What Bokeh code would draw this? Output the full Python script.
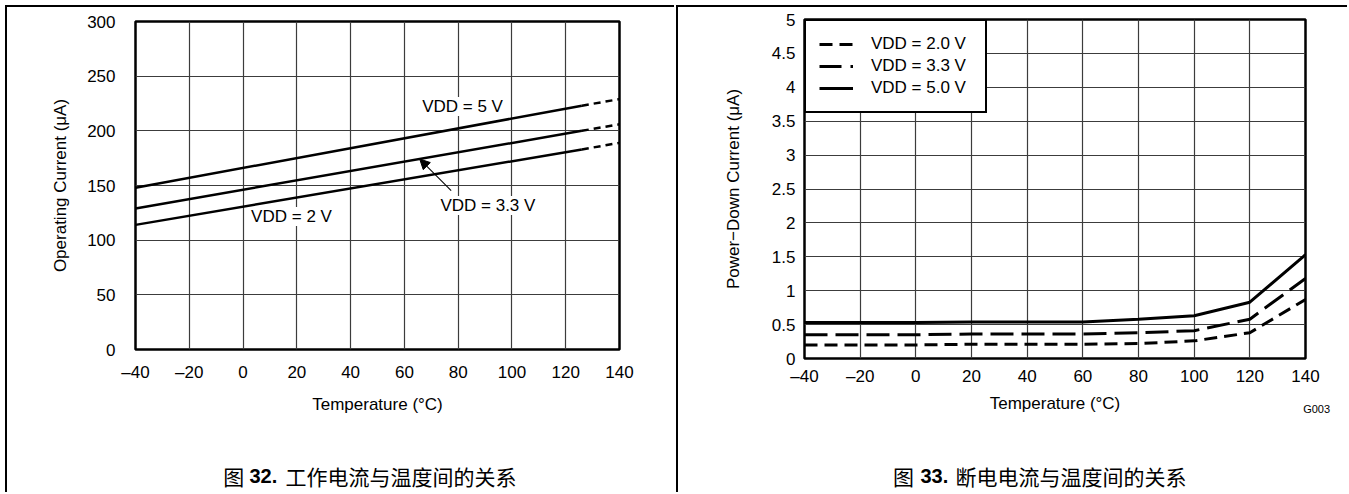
import numpy as np
from bokeh.plotting import figure
from bokeh.models import (Range1d, FixedTicker, Label, Arrow, NormalHead,
                          Legend, LegendItem)
from bokeh.embed import file_html
from bokeh.resources import INLINE

FONT = "Liberation Sans"
CJK = "Noto Sans CJK SC"

# Shared temperature axis
temp_ticks = [-40, -20, 0, 20, 40, 60, 80, 100, 120, 140]
temp_tick_text = {t: ("\u2013" + str(abs(t)) if t < 0 else str(t)) for t in temp_ticks}

# Figure 32: operating current vs temperature (solid up to 126 °C, dashed beyond)
op_temp = [-40, 126, 140]
op_5v = [148, 223, 229]
op_33v = [129, 200, 206]
op_2v = [114, 183, 189]
op_yticks = [0, 50, 100, 150, 200, 250, 300]

# Figure 33: power-down current vs temperature
pd_temp = [-40, -20, 0, 20, 40, 60, 80, 100, 120, 140]
pd_2v = [0.20, 0.20, 0.20, 0.21, 0.21, 0.21, 0.22, 0.26, 0.38, 0.87]
pd_33v = [0.35, 0.35, 0.35, 0.36, 0.36, 0.36, 0.38, 0.41, 0.58, 1.18]
pd_5v = [0.53, 0.53, 0.53, 0.54, 0.54, 0.54, 0.58, 0.63, 0.83, 1.53]
pd_yticks = [0, 0.5, 1, 1.5, 2, 2.5, 3, 3.5, 4, 4.5, 5]
pd_ytick_text = ["0", "0.5", "1", "1.5", "2", "2.5", "3", "3.5", "4", "4.5", "5"]

PANEL_BORDER = "2px solid black"


def place(left, top, border=False):
    st = {"position": "absolute", "left": f"{left}px", "top": f"{top}px"}
    if border:
        st["border-left"] = PANEL_BORDER
        st["border-top"] = PANEL_BORDER
    return st


def style_plot(p, yticks, ytick_text, ystandoff, xstandoff, xlab_standoff, ylab_standoff):
    p.outline_line_color = "black"
    p.outline_line_width = 2.5
    p.outline_line_alpha = 1.0
    p.background_fill_color = "white"
    p.border_fill_color = "white"

    p.xaxis.ticker = FixedTicker(ticks=temp_ticks)
    p.xgrid.ticker = FixedTicker(ticks=temp_ticks)
    p.xaxis.major_label_overrides = temp_tick_text
    p.yaxis.ticker = FixedTicker(ticks=yticks)
    p.ygrid.ticker = FixedTicker(ticks=yticks)
    p.yaxis.major_label_overrides = {t: s for t, s in zip(yticks, ytick_text)}

    for g in (p.xgrid, p.ygrid):
        g.grid_line_color = "#3c3c3c"
        g.grid_line_width = 1.2
        g.grid_line_alpha = 1.0

    for ax in (p.xaxis, p.yaxis):
        ax.axis_line_color = None
        ax.major_tick_line_color = None
        ax.minor_tick_line_color = None
        ax.major_tick_out = 0
        ax.major_tick_in = 0
        ax.minor_tick_out = 0
        ax.minor_tick_in = 0
        ax.major_label_text_font = FONT
        ax.major_label_text_font_size = "17px"
        ax.major_label_text_color = "black"
        ax.axis_label_text_font = FONT
        ax.axis_label_text_font_size = "17px"
        ax.axis_label_text_font_style = "normal"
        ax.axis_label_text_color = "black"

    p.yaxis.major_label_standoff = ystandoff
    p.xaxis.major_label_standoff = xstandoff
    p.xaxis.axis_label_standoff = xlab_standoff
    p.yaxis.axis_label_standoff = ylab_standoff


def note(p, x, y, text):
    p.add_layout(Label(x=x, y=y, text=text, text_font=FONT, text_font_size="17px",
                       text_baseline="middle", text_color="black",
                       background_fill_color="white", background_fill_alpha=1.0))


def caption_panel(left, width, x_fig, x_num, x_text, num, text):
    # transparent strip under a chart that carries its caption
    c = figure(width=width, height=104, x_range=Range1d(0, width), y_range=Range1d(0, 104),
               output_backend="svg", toolbar_location=None,
               x_axis_type=None, y_axis_type=None, min_border=0)
    c.outline_line_color = None
    c.background_fill_alpha = 0
    c.border_fill_alpha = 0
    c.styles = place(left, 390)
    y = 19
    c.add_layout(Label(x=x_fig, y=y, text="图", text_font=CJK, text_font_size="21px",
                       text_baseline="middle", text_color="black"))
    c.add_layout(Label(x=x_num, y=y, text=num, text_font=FONT, text_font_size="20px",
                       text_font_style="bold", text_baseline="middle", text_color="black"))
    c.add_layout(Label(x=x_text, y=y, text=text, text_font=CJK, text_font_size="21px",
                       text_baseline="middle", text_color="black"))
    return c


# ---------------- Figure 32 ----------------
p1 = figure(width=669, height=487, x_range=Range1d(-40, 140), y_range=Range1d(0, 300),
            output_backend="svg", toolbar_location=None,
            min_border_left=128, min_border_right=57, min_border_top=14, min_border_bottom=145,
            x_axis_label="Temperature (°C)", y_axis_label="Operating Current (μA)")
style_plot(p1, op_yticks, [str(v) for v in op_yticks], 20, 13, 10, 14)
p1.styles = place(5, 5, border=True)

for vals in (op_5v, op_33v, op_2v):
    p1.line(op_temp[:2], vals[:2], line_color="black", line_width=2.5)
    p1.line(op_temp[1:], vals[1:], line_color="black", line_width=2.5, line_dash="7 5")

note(p1, 66.6, 222.3, "VDD = 5 V")
note(p1, 73.4, 131.7, "VDD = 3.3 V")
note(p1, 3.0, 121.6, "VDD = 2 V")

arrow_x = 65.7
p1.add_layout(Arrow(end=NormalHead(size=10, fill_color="black", line_color="black", line_width=1),
                    x_start=77.4, y_start=145.4,
                    x_end=arrow_x, y_end=float(np.interp(arrow_x, op_temp, op_33v)),
                    line_color="black", line_width=1.1))

cap1 = caption_panel(7, 669, 215.7, 242.0, 278.0, "32.", "工作电流与温度间的关系")

# ---------------- Figure 33 ----------------
p2 = figure(width=671, height=487, x_range=Range1d(-40, 140), y_range=Range1d(0, 5),
            output_backend="svg", toolbar_location=None,
            min_border_left=126, min_border_right=44, min_border_top=12, min_border_bottom=136,
            x_axis_label="Temperature (°C)", y_axis_label="Power\u2212Down Current (μA)")
style_plot(p2, pd_yticks, pd_ytick_text, 9, 8, 5, 26)
p2.styles = place(676, 5, border=True)

r2 = p2.line(pd_temp, pd_2v, line_color="black", line_width=3, line_dash="13 7")
r33 = p2.line(pd_temp, pd_33v, line_color="black", line_width=3, line_dash="23 8")
r5 = p2.line(pd_temp, pd_5v, line_color="black", line_width=3)
# dash-dot legend swatch for the 3.3 V curve; its own y range keeps it out of the plot area
p2.extra_y_ranges = {"key": Range1d(50, 60)}
r33_key = p2.line(pd_temp, pd_33v, y_range_name="key",
                  line_color="black", line_width=3, line_dash="22 9 3 9")

legend = Legend(items=[LegendItem(label="VDD = 2.0 V", renderers=[r2]),
                       LegendItem(label="VDD = 3.3 V", renderers=[r33_key]),
                       LegendItem(label="VDD = 5.0 V", renderers=[r5])],
                location="top_left", margin=0, padding=13, spacing=2,
                glyph_width=34, glyph_height=20, label_height=20, label_width=101,
                label_standoff=18, border_line_color="black", border_line_width=2,
                border_line_alpha=1.0, background_fill_color="white", background_fill_alpha=1.0,
                label_text_font=FONT, label_text_font_size="17px", label_text_color="black")
p2.add_layout(legend)

cap2 = caption_panel(678, 671, 214.5, 242.0, 277.0, "33.", "断电电流与温度间的关系")
cap2.add_layout(Label(x=624.7, y=86, text="G003", text_font=FONT, text_font_size="11px",
                      text_baseline="middle", text_color="black"))

open("out.html", "w").write(file_html([p1, p2, cap1, cap2], INLINE))
